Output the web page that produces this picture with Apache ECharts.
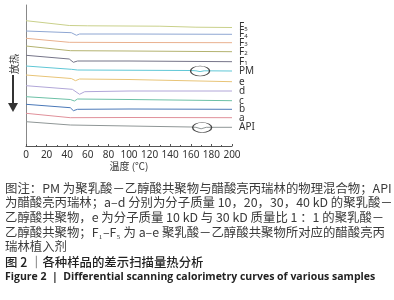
<!DOCTYPE html>
<html>
<head>
<meta charset="utf-8">
<script src="https://cdn.jsdelivr.net/npm/echarts@6/dist/echarts.min.js"></script>
<style>
  html, body { margin: 0; padding: 0; background: #fff; }
  #chart { width: 394px; height: 300px; }
</style>
</head>
<body>
<div id="chart"></div>
<script>
// temperature (°C) vs heat flow (arbitrary, stacked offsets)
var names = ['F5', 'F4', 'F3', 'F2', 'F1', 'PM', 'e', 'd', 'c', 'b', 'a', 'API'];
var colors = ['#c9d08a', '#8ea6d2', '#e9b08e', '#b3b26f', '#757488', '#5fc7d6',
              '#e8c477', '#b1a6d8', '#6cc0a6', '#4a78b8', '#e0909a', '#8f9696'];

var F5 = [[0, 125.3], [42, 120.5], [60, 120.2], [130, 119.8], [165, 118.8], [200, 118.5]];
var F4 = [[0, 115], [44, 113.3], [49, 110.7], [52, 112], [100, 112], [200, 111.7]];
var F3 = [[0, 107.7], [42, 103.7], [100, 103.5], [200, 103.3]];
var F2 = [[0, 100], [43, 95.3], [100, 95], [200, 94.3]];
var F1 = [[0, 90.7], [42, 87], [46, 83.7], [50, 85], [100, 85], [200, 84.3]];
var PM = [[0, 80], [44, 76.7], [50, 76], [160, 75.5], [165, 75.2], [169, 74.4], [173, 75.2], [200, 75]];
var e = [[0, 71], [44, 67.5], [48, 65.3], [52, 67], [100, 66.5], [200, 64.3]];
var d = [[0, 60.3], [45, 56.7], [52, 51.7], [57, 54.3], [100, 55], [200, 55]];
var c = [[0, 49.3], [43, 46.5], [47, 45], [50, 47], [100, 46.5], [200, 45.3]];
var b = [[0, 41.7], [43, 38.3], [46, 35.3], [50, 36.7], [100, 37], [200, 36.7]];
var a = [[0, 32.7], [43, 28.3], [100, 28.5], [200, 28.3]];
var API = [[0, 24.3], [43, 21], [100, 20], [160, 19], [165, 18.7], [170, 17.2], [175, 18.7], [200, 18.7]];
var curves = [F5, F4, F3, F2, F1, PM, e, d, c, b, a, API];

// circled regions (melting endotherm of the drug)
var circled = { PM: [169, 75], API: [171, 18.5] };

var captionLines = [
    '图注：PM 为聚乳酸－乙醇酸共聚物与醋酸亮丙瑞林的物理混合物；API',
    '为醋酸亮丙瑞林；a–d 分别为分子质量 10，20，30，40 kD 的聚乳酸－',
    '乙醇酸共聚物，e 为分子质量 10 kD 与 30 kD 质量比 1 ：1 的聚乳酸－',
    '乙醇酸共聚物；F₁–F₅ 为 a–e 聚乳酸－乙醇酸共聚物所对应的醋酸亮丙',
    '瑞林植入剂'
];
var titleCn = '图 2 ｜各种样品的差示扫描量热分析';
var titleEn = 'Figure 2  |  Differential scanning calorimetry curves of various samples';

var mychart = echarts.init(document.getElementById('chart'));

function labelText(n) {
    if (n.charAt(0) === 'F') return '{m|F}{s|' + n.charAt(1) + '}';
    return '{m|' + n + '}';
}

var series = names.map(function (n, i) {
    var s = {
        name: n,
        type: 'line',
        data: curves[i],
        symbol: 'none',
        lineStyle: { color: colors[i], width: 1 },
        itemStyle: { color: colors[i] },
        animation: false,
        endLabel: {
            show: true,
            distance: 7,
            offset: [0, -1],
            formatter: function () { return labelText(n); },
            rich: {
                m: { fontSize: 10, color: '#333', fontFamily: 'Noto Sans', lineHeight: 12, verticalAlign: 'bottom' },
                s: { fontSize: 6, color: '#333', fontFamily: 'Noto Sans', lineHeight: 6, verticalAlign: 'bottom' }
            }
        }
    };
    if (circled[n]) {
        s.markPoint = {
            symbol: 'circle',
            symbolSize: [19, 10],
            silent: true,
            label: { show: false },
            itemStyle: { color: 'rgba(0,0,0,0)', borderColor: '#444', borderWidth: 1 },
            data: [{ coord: circled[n] }]
        };
    }
    return s;
});

var graphics = [
    { type: 'text', x: 14, y: 64, rotation: Math.PI / 2, style: { text: '放热', font: '10px "Noto Sans CJK SC"', fill: '#333', align: 'center', verticalAlign: 'middle' } },
    { type: 'line', shape: { x1: 13, y1: 75, x2: 13, y2: 104 }, style: { stroke: '#333', lineWidth: 2 } },
    { type: 'polygon', shape: { points: [[8, 103], [18, 103], [13, 112]] }, style: { fill: '#333' } }
];
captionLines.forEach(function (t, i) {
    graphics.push({ type: 'text', left: 5, top: 182 + i * 14.6, style: { text: t, font: '12.4px "Noto Sans CJK SC"', fill: '#3a3a3a' } });
});
graphics.push({ type: 'text', left: 5, top: 256, style: { text: titleCn, font: '500 12.4px "Noto Sans CJK SC"', fill: '#222' } });
graphics.push({ type: 'text', left: 5, top: 272, style: { text: titleEn, font: 'bold 10.5px "Open Sans"', fill: '#222' } });

option = {
    animation: false,
    grid: { left: 26, right: 162, top: 5, bottom: 154 },
    xAxis: {
        type: 'value',
        min: 0,
        max: 200,
        interval: 20,
        name: '温度 (℃)',
        nameLocation: 'middle',
        nameGap: 15,
        nameTextStyle: { fontSize: 10, color: '#333', fontFamily: 'Noto Sans CJK SC' },
        axisLine: { lineStyle: { color: '#555' } },
        axisTick: { show: true, inside: true, length: 2, lineStyle: { color: '#555' } },
        minorTick: { show: true, splitNumber: 2, length: 1, lineStyle: { color: '#555' } },
        splitLine: { show: false },
        axisLabel: { fontSize: 10, color: '#333', margin: 4, fontFamily: 'Noto Sans' }
    },
    yAxis: {
        type: 'value',
        min: 0,
        max: 141,
        axisLine: { show: true, lineStyle: { color: '#888' } },
        axisTick: { show: false },
        axisLabel: { show: false },
        splitLine: { show: false }
    },
    graphic: graphics,
    series: series
};

mychart.setOption(option);
</script>
</body>
</html>
